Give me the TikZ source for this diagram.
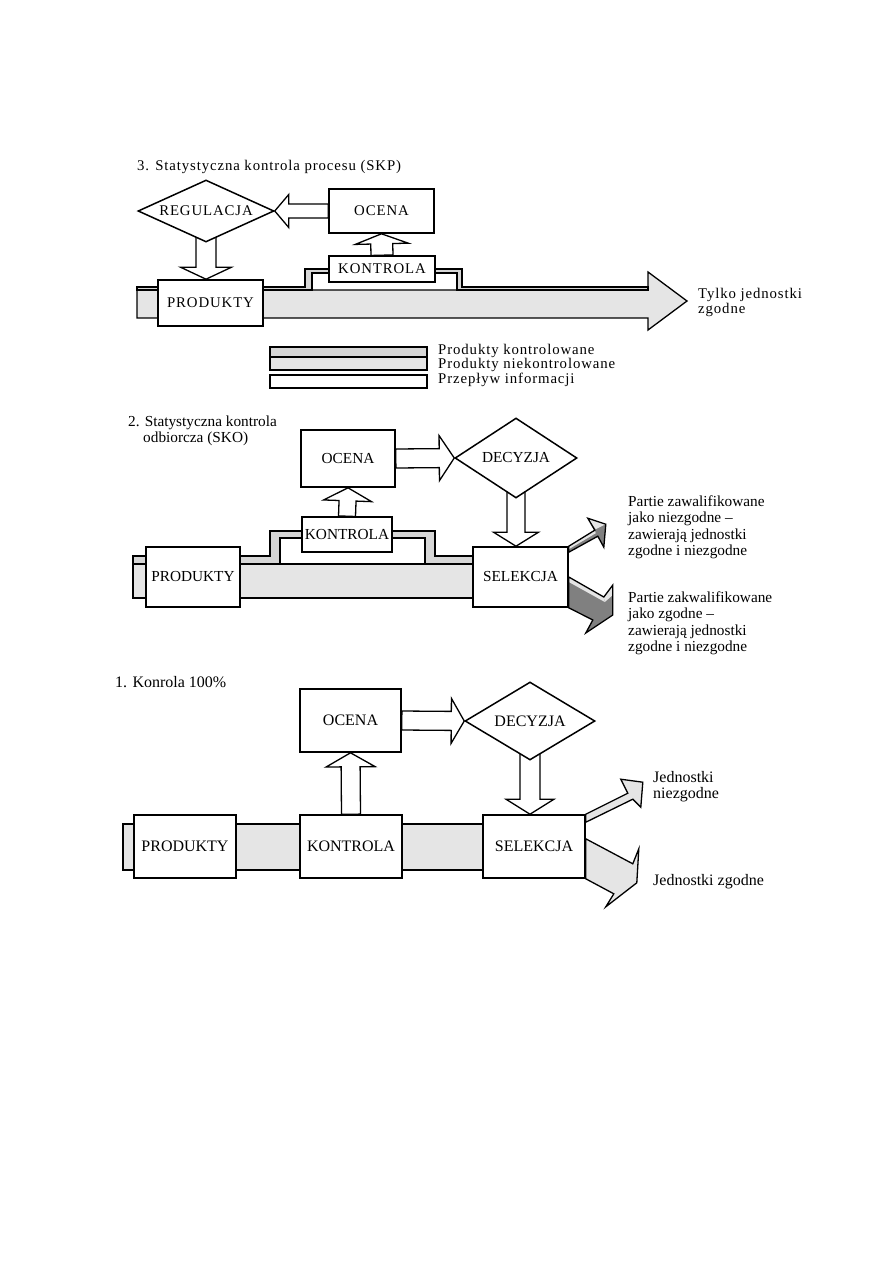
\documentclass[tikz,border=0pt]{standalone}
\usepackage{fontspec}
\setmainfont{Liberation Serif}
\newfontfamily\rozstr[LetterSpace=6]{Liberation Serif}
\usetikzlibrary{calc,shapes.geometric}

\pgfdeclarelayer{tlo}
\pgfsetlayers{tlo,main}

\definecolor{niekontr}{gray}{0.9}
\definecolor{kontr}{gray}{0.84}
\definecolor{ciemny}{gray}{0.5}

\tikzset{
  blok/.style={draw, fill=white, line width=1.6pt, inner sep=0pt},
  romb/.style={diamond, draw, fill=white, line width=1.5pt, inner sep=0pt},
  strz/.style={draw, fill=white, line width=1.3pt, line join=miter},
  pasek/.style={draw, fill=niekontr, line width=1.3pt},
  wyjscie/.style={draw, line width=1.3pt, line join=miter},
  opis/.style={anchor=base west, align=left, inner sep=0pt},
  pismo3/.style={font=\rozstr\fontsize{14.8}{13}\selectfont},
  pismo2/.style={font=\fontsize{15.3}{16.5}\selectfont},
  pismo1/.style={font=\fontsize{16}{16.5}\selectfont},
}

% szeroka strzalka: ogon, grot, pol trzonu, pol grotu, dlugosc grotu
\newcommand{\szeroka}[5]{%
  \coordinate (sT) at (#1);
  \coordinate (sH) at (#2);
  \coordinate (sB) at ($(sH)!#5!(sT)$);
  \draw[strz] ($(sT)!#3!90:(sH)$) -- ($(sB)!#3!90:(sH)$) -- ($(sB)!#4!90:(sH)$)
    -- (sH) -- ($(sB)!#4!-90:(sH)$) -- ($(sB)!#3!-90:(sH)$) -- ($(sT)!#3!-90:(sH)$) -- cycle;
}

\begin{document}
\begin{tikzpicture}[x=1pt,y=-1pt]
\useasboundingbox (0,0) rectangle (893,1263);

   %3 SKP
\node[opis, pismo3] (tyt3) at (137,170) {3. Statystyczna kontrola procesu (SKP)};
\node[romb, pismo3, shape aspect=2.2, minimum width=136, minimum height=62] (regulacja3) at (206,211) {REGULACJA};
\node[blok, pismo3, minimum width=105, minimum height=44] (ocena3) at (381.5,211) {OCENA};
\node[blok, pismo3, minimum width=106, minimum height=26] (kontrola3) at (382,269) {KONTROLA};
\node[blok, pismo3, minimum width=105, minimum height=46] (produkty3) at (210.5,303) {PRODUKTY};
\node[opis, pismo3] (tylko3) at (698,313) {Tylko jednostki\\zgodne};

\begin{pgfonlayer}{tlo}
  \draw[pasek] (137,290) -- (648,290) -- (648,272) -- (687,301) -- (648,330) -- (648,318) -- (137,318) -- cycle;
  \draw[pasek, fill=kontr] (137,287) -- (305,287) -- (305,269) -- (462,269) -- (462,287) -- (648,287)
    -- (648,290) -- (457,290) -- (457,273) -- (312,273) -- (312,290) -- (137,290) -- cycle;
  \szeroka{ocena3.west}{regulacja3.east}{7pt}{16.5pt}{14pt}
  \szeroka{kontrola3.north}{ocena3.south}{11pt}{26.5pt}{10pt}
  \szeroka{regulacja3.center}{regulacja3.center |- produkty3.north}{10pt}{25.5pt}{12pt}
\end{pgfonlayer}

   %legenda
\node[pasek, fill=kontr, minimum width=157, minimum height=10, inner sep=0pt] (leg1) at (348.5,352) {};
\node[pasek, minimum width=157, minimum height=13, inner sep=0pt] (leg2) at (348.5,363.5) {};
\node[pasek, fill=white, minimum width=157, minimum height=13, inner sep=0pt] (leg3) at (348.5,381.5) {};
\node[opis, pismo3] (legt1) at (438,354) {Produkty kontrolowane};
\node[opis, pismo3] (legt2) at (438,368) {Produkty niekontrolowane};
\node[opis, pismo3] (legt3) at (438,383) {Przepływ informacji};

   %2 SKO
\node[opis, pismo2] (tyt2) at (128,442.5) {2. Statystyczna kontrola\\\hspace*{15pt}odbiorcza (SKO)};
\node[blok, pismo2, minimum width=94, minimum height=57] (ocena2) at (348,458.5) {OCENA};
\node[romb, pismo2, shape aspect=1.5, minimum width=122, minimum height=80] (decyzja2) at (516,458) {DECYZJA};
\node[blok, pismo2, minimum width=90, minimum height=35] (kontrola2) at (347,534.5) {KONTROLA};
\node[blok, pismo2, minimum width=94, minimum height=60] (produkty2) at (193,577) {PRODUKTY};
\node[blok, pismo2, minimum width=95, minimum height=60] (selekcja2) at (520.5,577) {SELEKCJA};
\node[opis, pismo2] (niezg2) at (628,555.5) {Partie zawalifikowane\\jako niezgodne –\\zawierają jednostki\\zgodne i niezgodne};
\node[opis, pismo2] (zg2) at (628,651.5) {Partie zakwalifikowane\\jako zgodne –\\zawierają jednostki\\zgodne i niezgodne};

\begin{pgfonlayer}{tlo}
  \draw[pasek] (133,564) rectangle (473,598);
  \draw[pasek, fill=kontr] (133,556) -- (270,556) -- (270,531) -- (435,531) -- (435,556) -- (473,556)
    -- (473,564) -- (425,564) -- (425,538) -- (280,538) -- (280,564) -- (133,564) -- cycle;
  \szeroka{kontrola2.north}{ocena2.south}{8.5pt}{24pt}{13pt}
  \szeroka{ocena2.east}{decyzja2.west}{9.5pt}{22.5pt}{15pt}
  \szeroka{decyzja2.center}{decyzja2.center |- selekcja2.north}{9pt}{22.5pt}{14pt}
\end{pgfonlayer}

% wyjscia z selekcji
\coordinate (g1) at (selekcja2.north east);
\coordinate (g2) at ($(g1)+(26,-16)$);
\coordinate (g3) at ($(g1)+(19,-28)$);
\coordinate (g4) at ($(g1)+(37,-22)$);
\coordinate (g5) at ($(g1)+(35,1)$);
\coordinate (g6) at ($(g1)+(29,-10)$);
\coordinate (g7) at ($(g1)+(0,6)$);
\fill[ciemny] (g1) -- (g2) -- (g3) -- (g4) -- (g5) -- (g6) -- (g7) -- cycle;
\fill[niekontr] (g1) -- (g2) -- ($(g2)+(1,3)$) -- ($(g1)+(0,3)$) -- cycle;
\fill[niekontr] (g3) -- (g4) -- ($(g2)+(1,-1)$) -- cycle;
\draw[wyjscie] (g1) -- (g2) -- (g3) -- (g4) -- (g5) -- (g6) -- (g7) -- cycle;

\coordinate (d1) at (selekcja2.east);
\coordinate (d2) at ($(d1)+(35,20)$);
\coordinate (d3) at ($(d1)+(44,8)$);
\coordinate (d4) at ($(d1)+(44,38)$);
\coordinate (d5) at ($(d1)+(17,56)$);
\coordinate (d6) at ($(d1)+(24,43)$);
\coordinate (d7) at (selekcja2.south east);
\fill[ciemny] (d1) -- (d2) -- (d3) -- (d4) -- (d5) -- (d6) -- (d7) -- cycle;
\fill[niekontr] (d1) -- (d2) -- ($(d2)+(1,5)$) -- ($(d1)+(0,5)$) -- cycle;
\fill[niekontr] (d2) -- (d3) -- ($(d3)+(0,10)$) -- ($(d2)+(1,5)$) -- cycle;
\draw[wyjscie] (d1) -- (d2) -- (d3) -- (d4) -- (d5) -- (d6) -- (d7) -- cycle;

   %1 100%
\node[opis, pismo1] (tyt1) at (115,687) {1. Konrola 100\%};
\node[blok, pismo1, minimum width=101, minimum height=63] (ocena1) at (350.5,720.5) {OCENA};
\node[romb, pismo1, shape aspect=1.67, minimum width=130, minimum height=78] (decyzja1) at (530,721) {DECYZJA};
\node[blok, pismo1, minimum width=102, minimum height=63] (produkty1) at (185,846.5) {PRODUKTY};
\node[blok, pismo1, minimum width=102, minimum height=63] (kontrola1) at (351,846.5) {KONTROLA};
\node[blok, pismo1, minimum width=102, minimum height=63] (selekcja1) at (534,846.5) {SELEKCJA};
\node[opis, pismo1] (niezg1) at (653,798.5) {Jednostki\\niezgodne};
\node[opis, pismo1] (zg1) at (653,885) {Jednostki zgodne};

\begin{pgfonlayer}{tlo}
  \draw[pasek] (123,824) rectangle (483,870);
  \szeroka{kontrola1.north}{ocena1.south}{9.5pt}{24.5pt}{14pt}
  \szeroka{ocena1.east}{decyzja1.west}{9.5pt}{22.5pt}{13pt}
  \szeroka{decyzja1.center}{decyzja1.center |- selekcja1.north}{10pt}{24pt}{15pt}
\end{pgfonlayer}

\draw[wyjscie, fill=niekontr] (selekcja1.north east) -- ++(42,-21) -- ++(-7,-14) -- ++(22,3) -- ++(-2,25) -- ++(-8,-8) -- ++(-47,23) -- cycle;
\draw[wyjscie, fill=niekontr] (selekcja1.south east) -- ++(28,15) -- ++(-8,13) -- ++(31,-24) -- ++(2,-34) -- ++(-6,15) -- ++(-47,-25) -- cycle;

\end{tikzpicture}
\end{document}
